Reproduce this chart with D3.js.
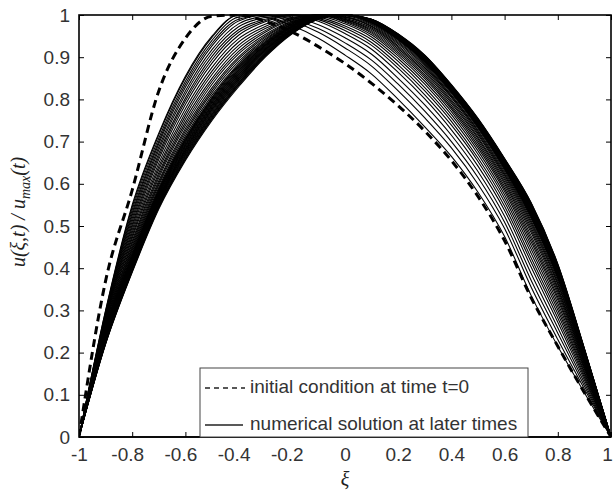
<!DOCTYPE html>
<html>
<head>
<meta charset="utf-8">
<script src="https://cdn.jsdelivr.net/npm/d3@7"></script>
<style>
  body { margin: 0; background: #fff; }
  .tick-label { font-family: "Liberation Sans", Arial, sans-serif; font-size: 19px; fill: #333; }
  .legend-text { font-family: "Liberation Sans", Arial, sans-serif; font-size: 19px; fill: #333; }
  .axis-title { font-family: "Liberation Serif", "Times New Roman", serif; font-style: italic; font-size: 20px; fill: #222; }
</style>
</head>
<body>
<div id="chart"></div>
<script>
const xi = [-1, -0.9, -0.8, -0.7, -0.6, -0.5, -0.4, -0.3, -0.2, -0.1, 0,
            0.1, 0.2, 0.3, 0.4, 0.5, 0.6, 0.7, 0.8, 0.9, 1];

// dashed profile, t = 0
const initialCondition = [0, 0.37, 0.585, 0.82, 0.945, 0.997, 1.0, 0.985, 0.96, 0.925, 0.885,
                          0.838, 0.785, 0.725, 0.655, 0.57, 0.465, 0.33, 0.215, 0.105, 0];

// solid profiles at later times (one row per time, earliest first)
const laterSolutions = [
  [0,0.300,0.550,0.720,0.855,0.950,1.000,0.995,0.975,0.945,0.905,0.860,0.800,0.735,0.665,0.580,0.475,0.335,0.215,0.105,0],
  [0,0.298,0.545,0.716,0.851,0.947,1.000,1.000,0.985,0.959,0.922,0.879,0.820,0.756,0.685,0.599,0.494,0.355,0.231,0.114,0],
  [0,0.294,0.538,0.708,0.843,0.940,0.995,1.000,0.990,0.968,0.934,0.893,0.836,0.772,0.700,0.615,0.509,0.371,0.246,0.121,0],
  [0,0.291,0.531,0.701,0.836,0.933,0.990,1.000,0.994,0.977,0.946,0.907,0.850,0.787,0.715,0.629,0.523,0.387,0.259,0.128,0],
  [0,0.288,0.525,0.695,0.829,0.927,0.986,1.000,0.999,0.985,0.956,0.919,0.864,0.801,0.728,0.642,0.537,0.402,0.272,0.135,0],
  [0,0.285,0.518,0.687,0.820,0.918,0.979,0.997,1.000,0.989,0.963,0.928,0.874,0.811,0.739,0.653,0.547,0.414,0.282,0.141,0],
  [0,0.281,0.511,0.680,0.812,0.910,0.972,0.994,1.000,0.992,0.969,0.935,0.882,0.820,0.748,0.661,0.557,0.424,0.292,0.146,0],
  [0,0.278,0.504,0.672,0.803,0.902,0.965,0.990,1.000,0.995,0.974,0.942,0.890,0.828,0.756,0.670,0.566,0.435,0.301,0.151,0],
  [0,0.275,0.498,0.665,0.796,0.894,0.959,0.987,1.000,0.998,0.979,0.948,0.897,0.836,0.764,0.678,0.574,0.445,0.309,0.155,0],
  [0,0.272,0.491,0.658,0.788,0.886,0.952,0.984,0.999,1.000,0.983,0.953,0.903,0.843,0.771,0.685,0.582,0.454,0.317,0.160,0],
  [0,0.268,0.484,0.649,0.778,0.876,0.944,0.978,0.997,1.000,0.985,0.957,0.908,0.849,0.777,0.691,0.588,0.462,0.325,0.164,0],
  [0,0.264,0.477,0.641,0.769,0.867,0.936,0.973,0.994,1.000,0.987,0.960,0.912,0.854,0.781,0.697,0.594,0.469,0.331,0.167,0],
  [0,0.261,0.471,0.634,0.761,0.859,0.928,0.968,0.992,1.000,0.989,0.963,0.916,0.858,0.786,0.702,0.600,0.476,0.338,0.171,0],
  [0,0.258,0.464,0.626,0.753,0.850,0.921,0.963,0.990,1.000,0.990,0.966,0.920,0.863,0.791,0.707,0.605,0.484,0.344,0.174,0],
  [0,0.255,0.459,0.620,0.745,0.843,0.914,0.959,0.988,1.000,0.992,0.969,0.924,0.867,0.795,0.711,0.610,0.490,0.350,0.177,0],
  [0,0.252,0.453,0.614,0.738,0.836,0.908,0.954,0.986,1.000,0.994,0.972,0.927,0.871,0.799,0.716,0.615,0.496,0.355,0.180,0],
  [0,0.249,0.448,0.607,0.731,0.828,0.901,0.950,0.984,1.000,0.995,0.974,0.931,0.875,0.804,0.720,0.620,0.502,0.361,0.183,0],
  [0,0.247,0.443,0.602,0.725,0.822,0.896,0.947,0.982,1.000,0.996,0.977,0.934,0.879,0.807,0.724,0.624,0.507,0.365,0.186,0],
  [0,0.245,0.438,0.597,0.719,0.816,0.890,0.943,0.981,1.000,0.998,0.979,0.937,0.882,0.810,0.727,0.628,0.512,0.370,0.188,0],
  [0,0.242,0.434,0.591,0.713,0.810,0.885,0.940,0.979,1.000,0.999,0.981,0.940,0.885,0.814,0.731,0.632,0.517,0.375,0.191,0],
  [0,0.241,0.430,0.587,0.708,0.805,0.881,0.937,0.978,1.000,1.000,0.983,0.942,0.888,0.817,0.734,0.635,0.521,0.378,0.193,0],
  [0,0.240,0.428,0.585,0.706,0.803,0.879,0.935,0.977,1.000,1.000,0.983,0.943,0.889,0.818,0.735,0.637,0.523,0.380,0.194,0],
  [0,0.238,0.426,0.582,0.703,0.800,0.876,0.933,0.975,0.999,1.000,0.983,0.943,0.890,0.818,0.736,0.638,0.524,0.381,0.194,0],
  [0,0.237,0.424,0.580,0.701,0.797,0.873,0.931,0.974,0.998,1.000,0.984,0.944,0.891,0.819,0.737,0.639,0.526,0.383,0.195,0],
  [0,0.236,0.422,0.578,0.698,0.794,0.870,0.929,0.973,0.998,1.000,0.984,0.945,0.891,0.820,0.738,0.640,0.528,0.385,0.196,0],
  [0,0.235,0.420,0.576,0.695,0.791,0.868,0.928,0.972,0.997,1.000,0.985,0.946,0.892,0.821,0.739,0.642,0.530,0.387,0.197,0],
  [0,0.234,0.418,0.573,0.692,0.788,0.865,0.926,0.971,0.997,1.000,0.985,0.946,0.893,0.822,0.740,0.643,0.531,0.388,0.198,0],
  [0,0.233,0.416,0.571,0.690,0.786,0.863,0.924,0.970,0.996,1.000,0.986,0.947,0.894,0.823,0.741,0.644,0.533,0.390,0.199,0],
  [0,0.232,0.414,0.568,0.687,0.783,0.860,0.922,0.968,0.996,1.000,0.986,0.947,0.895,0.824,0.742,0.645,0.535,0.391,0.200,0],
  [0,0.231,0.412,0.566,0.684,0.780,0.858,0.920,0.967,0.995,1.000,0.986,0.948,0.896,0.825,0.744,0.647,0.537,0.393,0.201,0],
  [0,0.230,0.410,0.563,0.681,0.777,0.855,0.918,0.966,0.995,1.000,0.986,0.949,0.897,0.826,0.745,0.648,0.538,0.394,0.201,0],
  [0,0.229,0.408,0.561,0.679,0.775,0.853,0.917,0.965,0.994,1.000,0.987,0.950,0.898,0.827,0.746,0.649,0.540,0.396,0.202,0],
  [0,0.228,0.406,0.559,0.676,0.772,0.850,0.915,0.964,0.994,1.000,0.987,0.950,0.898,0.828,0.747,0.650,0.542,0.397,0.203,0],
  [0,0.227,0.404,0.557,0.674,0.769,0.848,0.913,0.963,0.993,1.000,0.988,0.951,0.899,0.829,0.748,0.652,0.544,0.399,0.204,0],
  [0,0.226,0.402,0.554,0.671,0.766,0.845,0.911,0.962,0.993,1.000,0.988,0.951,0.900,0.830,0.749,0.653,0.545,0.401,0.205,0],
  [0,0.225,0.400,0.552,0.669,0.764,0.843,0.909,0.961,0.992,1.000,0.989,0.952,0.901,0.831,0.750,0.654,0.547,0.403,0.206,0],
  [0,0.224,0.398,0.549,0.666,0.761,0.840,0.907,0.959,0.992,1.000,0.989,0.952,0.902,0.831,0.751,0.655,0.548,0.404,0.207,0],
  [0,0.223,0.396,0.547,0.663,0.758,0.838,0.906,0.958,0.991,1.000,0.989,0.953,0.903,0.832,0.752,0.657,0.550,0.406,0.208,0],
  [0,0.222,0.394,0.545,0.660,0.755,0.835,0.904,0.957,0.991,1.000,0.989,0.954,0.903,0.833,0.753,0.658,0.552,0.407,0.208,0],
  [0,0.221,0.392,0.543,0.658,0.753,0.833,0.902,0.956,0.990,1.000,0.990,0.955,0.904,0.834,0.754,0.659,0.554,0.409,0.209,0],
  [0,0.220,0.390,0.540,0.655,0.750,0.830,0.900,0.955,0.990,1.000,0.990,0.955,0.905,0.835,0.755,0.660,0.555,0.410,0.210,0]
];

const xTicks = [-1, -0.8, -0.6, -0.4, -0.2, 0, 0.2, 0.4, 0.6, 0.8, 1];
const xTickLabels = ["-1", "-0.8", "-0.6", "-0.4", "-0.2", "0", "0.2", "0.4", "0.6", "0.8", "1"];
const yTicks = [0, 0.1, 0.2, 0.3, 0.4, 0.5, 0.6, 0.7, 0.8, 0.9, 1];
const yTickLabels = ["0", "0.1", "0.2", "0.3", "0.4", "0.5", "0.6", "0.7", "0.8", "0.9", "1"];
const legendLabels = ["initial condition at time t=0", "numerical solution at later times"];

const chart = {
    width: 613,
    height: 501,
    margin: {top: 15, right: 2, bottom: 64, left: 79}
};
chart.innerWidth = chart.width - chart.margin.left - chart.margin.right;
chart.innerHeight = chart.height - chart.margin.top - chart.margin.bottom;

const svg = d3.select("#chart")
    .append("svg")
    .attr("width", chart.width)
    .attr("height", chart.height)
    .style("background", "#fff");

const g = svg.append("g")
    .attr("transform", `translate(${chart.margin.left}, ${chart.margin.top})`);

const x = d3.scaleLinear().domain([-1, 1]).range([0, chart.innerWidth]);
const y = d3.scaleLinear().domain([0, 1]).range([chart.innerHeight, 0]);

g.append("clipPath").attr("id", "plot-clip")
    .append("rect")
    .attr("x", 0).attr("y", -1)
    .attr("width", chart.innerWidth).attr("height", chart.innerHeight + 1);

const line = d3.line()
    .x(d => x(d[0]))
    .y(d => y(d[1]))
    .curve(d3.curveMonotoneX);

const curves = g.append("g").attr("clip-path", "url(#plot-clip)");

// later-time profiles: thin solid lines
curves.selectAll("path.solution")
    .data(laterSolutions)
    .enter()
    .append("path")
    .attr("class", "solution")
    .attr("d", row => line(row.map((u, i) => [xi[i], u])))
    .attr("fill", "none")
    .attr("stroke", "#000")
    .attr("stroke-width", 1.1);

// initial condition: thick dashed line
curves.append("path")
    .attr("d", line(initialCondition.map((u, i) => [xi[i], u])))
    .attr("fill", "none")
    .attr("stroke", "#000")
    .attr("stroke-width", 3)
    .attr("stroke-dasharray", "8,5");

// axes (box with inward ticks on all four sides)
g.append("g")
    .attr("transform", `translate(0, ${chart.innerHeight})`)
    .call(d3.axisBottom(x).tickValues(xTicks).tickFormat((d, i) => xTickLabels[i])
        .tickSize(-5).tickSizeOuter(0).tickPadding(11))
    .selectAll(".tick text")
    .attr("dx", d => d === 1 ? -4 : (d < 0 && d > -1 ? -5 : 0));
g.append("g")
    .call(d3.axisLeft(y).tickValues(yTicks).tickFormat((d, i) => yTickLabels[i])
        .tickSize(-5).tickSizeOuter(0).tickPadding(9));
g.append("g")
    .call(d3.axisTop(x).tickValues(xTicks).tickFormat("").tickSize(-5).tickSizeOuter(0));
g.append("g")
    .attr("transform", `translate(${chart.innerWidth}, 0)`)
    .call(d3.axisRight(y).tickValues(yTicks).tickFormat("").tickSize(-5).tickSizeOuter(0));

g.selectAll(".domain").remove();
g.selectAll(".tick line").attr("stroke", "#000").attr("stroke-width", 1);
g.selectAll(".tick text").attr("class", "tick-label").attr("fill", null);

g.append("rect")
    .attr("x", x(-1)).attr("y", y(1))
    .attr("width", x(1) - x(-1)).attr("height", y(0) - y(1))
    .attr("fill", "none")
    .attr("stroke", "#000")
    .attr("stroke-width", 1.6);

// legend
const legend = svg.append("g").attr("transform", "translate(200, 368)");
legend.append("rect")
    .attr("width", 328).attr("height", 69)
    .attr("fill", "#fff")
    .attr("stroke", "#444")
    .attr("stroke-width", 1);
legend.append("line")
    .attr("x1", 5).attr("x2", 45).attr("y1", 20).attr("y2", 20)
    .attr("stroke", "#222").attr("stroke-width", 1.3).attr("stroke-dasharray", "5,4");
legend.append("line")
    .attr("x1", 5).attr("x2", 43).attr("y1", 57).attr("y2", 57)
    .attr("stroke", "#222").attr("stroke-width", 1.3);
legend.selectAll("text")
    .data(legendLabels)
    .enter()
    .append("text")
    .attr("class", "legend-text")
    .attr("x", 50)
    .attr("y", (d, i) => 25 + i * 37)
    .text(d => d);

// re-draw bottom edge over the legend box
g.append("line")
    .attr("x1", x(-1)).attr("x2", x(1)).attr("y1", y(0)).attr("y2", y(0))
    .attr("stroke", "#000").attr("stroke-width", 1.6);

// axis titles
svg.append("text")
    .attr("class", "axis-title")
    .attr("text-anchor", "middle")
    .attr("x", 345).attr("y", 486)
    .text("ξ");

const yTitle = svg.append("text")
    .attr("class", "axis-title")
    .attr("text-anchor", "middle")
    .attr("transform", "translate(25, 212) rotate(-90)");
yTitle.append("tspan").text("u(ξ,t) / u");
yTitle.append("tspan").attr("font-size", "14px").attr("dy", 5).text("max");
yTitle.append("tspan").attr("dy", -5).text("(t)");
</script>
</body>
</html>
